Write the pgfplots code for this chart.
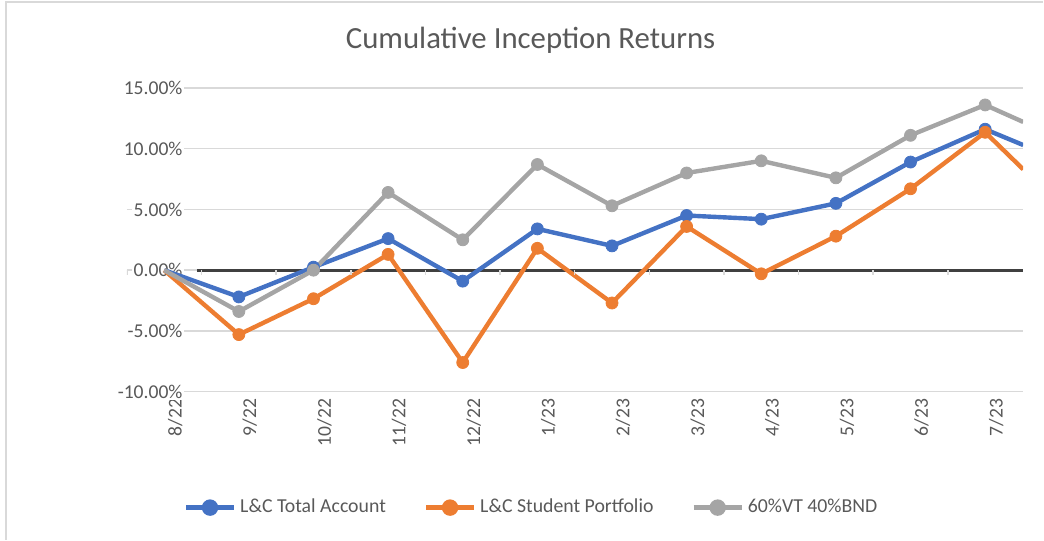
\documentclass[border=0pt]{standalone}
\usepackage{fontspec}
\setmainfont{Carlito}
\usepackage{pgfplots}
\usepackage{pgfplotstable}
\pgfplotsset{compat=1.18}
\definecolor{cblue}{HTML}{4472C4}
\definecolor{corange}{HTML}{ED7D31}
\definecolor{cgray}{HTML}{A5A5A5}
\definecolor{ctext}{HTML}{595959}
\definecolor{cgrid}{HTML}{D9D9D9}
\definecolor{cblack}{HTML}{404040}
\pgfplotstableread{
i      total  student  bench
0      0.0    0.0      0.0
1     -2.2   -5.3     -3.4
2      0.25  -2.35     0.0
3      2.6    1.3      6.4
4     -0.9   -7.6      2.5
5      3.4    1.8      8.7
6      2.0   -2.7      5.3
7      4.5    3.6      8.0
8      4.2   -0.3      9.0
9      5.5    2.8      7.6
10     8.9    6.7     11.1
11    11.6   11.35    13.6
11.51 10.3    8.3     12.2
}\datatable
\begin{document}
\begin{tikzpicture}
\path (0,0) rectangle (522pt,270pt);
\draw[cgrid, line width=0.8pt] (3pt,0pt) -- (3pt,269pt) -- (522pt,269pt);
\node[text=ctext, font=\fontsize{15.4}{18}\selectfont] at (265.5pt,250pt) {Cumulative Inception Returns};
\begin{axis}[
  set layers,
  at={(63.5pt,74pt)}, anchor=south west,
  scale only axis, width=448.5pt, height=152pt,
  xmin=-0.5, xmax=11.51, ymin=-10, ymax=15,
  axis line style={draw=none},
  major tick length=0pt,
  ytick={-10,-5,0,5,10,15},
  yticklabels={-10.00\%,-5.00\%,0.00\%,5.00\%,10.00\%,15.00\%},
  ymajorgrids, grid style={cgrid, line width=0.75pt},
  xtick={0,...,11},
  xticklabels={8/22,9/22,10/22,11/22,12/22,1/23,2/23,3/23,4/23,5/23,6/23,7/23},
  tick label style={text=ctext, font=\fontsize{9.8}{12}\selectfont},
  yticklabel style={anchor=east, xshift=29pt, fill=white, inner sep=1pt},
  xticklabel style={rotate=90, anchor=east, yshift=-5.5pt},
  every axis plot/.append style={line width=2.2pt, mark size=3pt},
  legend columns=-1,
  legend style={at={(0.4526,-0.3816)}, anchor=center, draw=none, fill=none,
    font=\fontsize{9.9}{12}\selectfont, text=ctext,
    /tikz/every even column/.append style={column sep=17pt}},
  legend image code/.code={
    \draw[#1, mark=none] (0pt,0pt) -- (24pt,0pt);
    \fill[#1, mark=none] (12pt,0pt) circle[radius=3pt];},
]
\addplot[cblack, line width=1.5pt, forget plot] coordinates {(0.44,0) (11.51,0)};
\addplot[cblue, mark=*, mark options={fill=cblue, solid, line width=0.4pt}, mark indices={2,...,12}] table[x=i, y=total] {\datatable};
\addlegendentry{L\&C Total Account}
\addplot[corange, mark=*, mark options={fill=corange, solid, line width=0.4pt}, mark indices={2,...,12}] table[x=i, y=student] {\datatable};
\addlegendentry{L\&C Student Portfolio}
\addplot[cgray, mark=*, mark options={fill=cgray, solid, line width=0.4pt}, mark indices={2,...,12}] table[x=i, y=bench] {\datatable};
\addlegendentry{60\%VT 40\%BND}
\foreach \t in {-0.5,0.5,...,10.5} {
  \edef\temp{\noexpand\draw[cgrid, line width=0.75pt] (axis cs:\t,0) -- ++(0pt,-2.5pt);}
  \temp
}
\end{axis}
\end{tikzpicture}
\end{document}
